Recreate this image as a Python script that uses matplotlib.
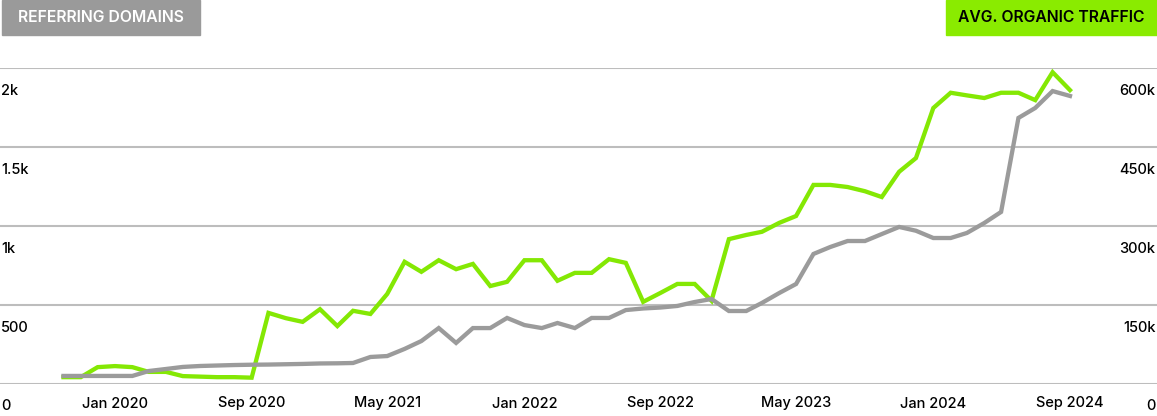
import matplotlib
matplotlib.use("Agg")
import matplotlib.pyplot as plt
import matplotlib.dates as mdates
import matplotlib.transforms as mtransforms
from matplotlib.patches import Rectangle
import pandas as pd

# monthly points, Oct 2019 - Sep 2024
months = pd.date_range("2019-10-01", "2024-09-01", freq="MS")

# referring domains (left axis)
ref_domains = [51, 51, 51, 51, 51, 82, 95, 108, 114, 117, 120, 122,
               123, 125, 127, 130, 131, 133, 171, 177, 222, 272, 354, 260,
               354, 354, 418, 373, 354, 386, 354, 418, 418, 468, 478, 484,
               494, 519, 538, 462, 462, 513, 576, 633, 823, 867, 905, 905,
               949, 994, 970, 924, 924, 956, 1019, 1089, 1684, 1747, 1854, 1823]

# avg organic traffic (right axis)
org_traffic = [13, 13, 32, 34, 32, 23, 23, 15, 14, 13, 13, 12,
               135, 125, 118, 142, 110, 139, 133, 171, 232, 213, 235, 218,
               228, 186, 194, 235, 235, 196, 211, 211, 237, 230, 156, 173,
               190, 190, 158, 275, 283, 289, 306, 319, 378, 378, 374, 366,
               355, 403, 429, 524, 553, 548, 543, 553, 553, 539, 592, 558]
org_traffic = [v * 1000 for v in org_traffic]

left_ticks = [0, 500, 1000, 1500, 2000]
left_labels = ["0", "500", "1k", "1.5k", "2k"]
right_ticks = [0, 150000, 300000, 450000, 600000]
right_labels = ["0", "150k", "300k", "450k", "600k"]
x_ticks = ["2020-01-01", "2020-09-01", "2021-05-01", "2022-01-01",
           "2022-09-01", "2023-05-01", "2024-01-01", "2024-09-01"]
x_labels = ["Jan 2020", "Sep 2020", "May 2021", "Jan 2022",
            "Sep 2022", "May 2023", "Jan 2024", "Sep 2024"]

GREEN = "#84e804"
GRAY = "#9b9b9b"
GRID = "#bdbdbd"

plt.rcParams["font.family"] = ["Inter", "DejaVu Sans"]
plt.rcParams["font.weight"] = "medium"

W, H = 1157, 416
fig = plt.figure(figsize=(W / 100, H / 100), dpi=100)
ax2 = fig.add_axes([0, (H - 384) / H, 1, 316 / H])  # right scale, green + grid
ax = ax2.twinx()
ax.yaxis.tick_left()
ax2.yaxis.tick_right()
ax.set_zorder(ax2.get_zorder() + 1)
ax.patch.set_visible(False)

ax2.plot(months, org_traffic, color=GREEN, lw=3.1, solid_joinstyle="miter",
         clip_on=False)
ax.plot(months, ref_domains, color=GRAY, lw=3.1, solid_joinstyle="miter",
        clip_on=False)

# x mapping: Jan 2020 at px 115, 0.5601 px per day
x0 = mdates.date2num(pd.Timestamp("2020-01-01"))
ax2.set_xlim(x0 - 115 / 0.5601, x0 + (W - 115) / 0.5601)
ax.set_ylim(0, 2000)
ax2.set_ylim(0, 600000)

ax2.set_yticks(right_ticks, right_labels)
ax.set_yticks(left_ticks, left_labels)
ax2.set_xticks([mdates.date2num(pd.Timestamp(d)) for d in x_ticks], x_labels)

ax2.yaxis.grid(True, color=GRID, lw=1.5)
ax2.set_axisbelow(True)
for a in (ax, ax2):
    for s in a.spines.values():
        s.set_visible(False)
    a.tick_params(length=0, labelsize=10.5, colors="black")

ax2.tick_params(axis="x", pad=9)
ax2.tick_params(axis="y", pad=-1)
ax.tick_params(axis="y", pad=-1)
shift = mtransforms.ScaledTranslation(0, -21 / 100, fig.dpi_scale_trans)
for lab in ax.get_yticklabels():
    lab.set_horizontalalignment("left")
    lab.set_transform(lab.get_transform() + shift)
for lab in ax2.get_yticklabels():
    lab.set_horizontalalignment("right")
    lab.set_transform(lab.get_transform() + shift)

# header badges
def badge(x, w, text, face, color):
    fig.patches.append(Rectangle((x / W, (H - 35) / H), w / W, 35 / H,
                                 transform=fig.transFigure, color=face,
                                 zorder=0))
    fig.text((x + w / 2) / W, (H - 17.5) / H, text, ha="center", va="center",
             color=color, fontsize=11.3, fontweight="semibold")

badge(2, 198, "REFERRING DOMAINS", "#9a9a9a", "white")
badge(946, 211, "AVG. ORGANIC TRAFFIC", "#8aeb00", "black")

fig.savefig("out.png", dpi=100)
